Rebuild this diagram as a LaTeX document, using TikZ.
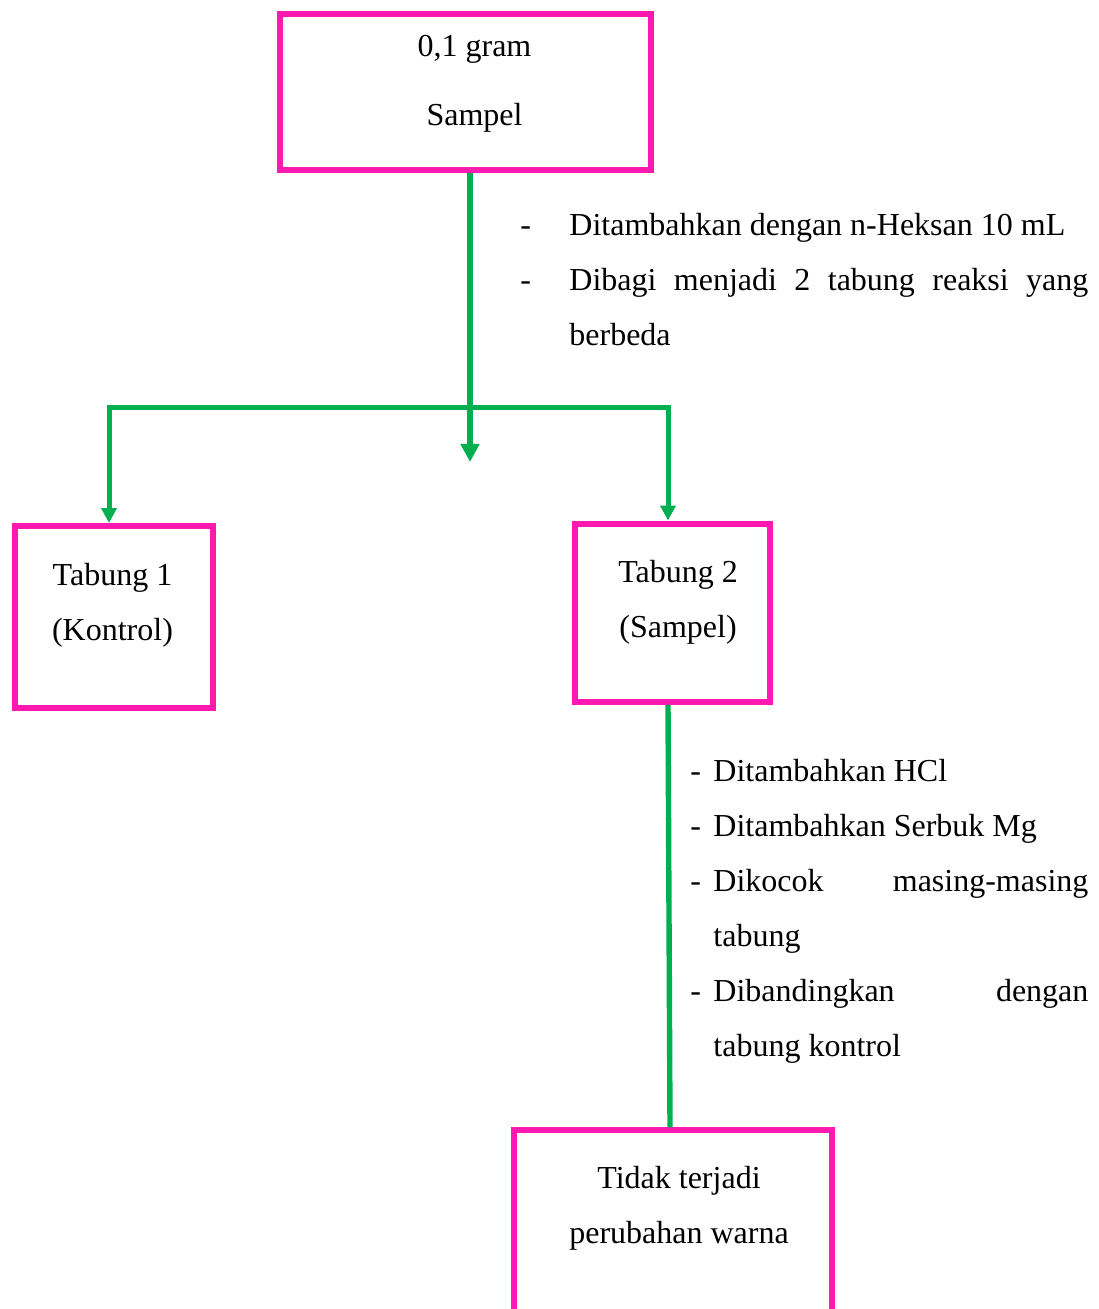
\documentclass[tikz,border=0pt]{standalone}
\usepackage{fontspec}
\setmainfont{Liberation Serif}
\usetikzlibrary{arrows.meta}
\definecolor{boxpink}{RGB}{255,25,175}
\definecolor{flowgreen}{RGB}{0,176,80}
\tikzset{
  pbox/.style={draw=boxpink, line width=3pt, inner sep=0pt, rectangle},
  gline/.style={draw=flowgreen, line width=2.6pt},
  tipbig/.style={-{Triangle[width=9pt,length=9pt]}, color=flowgreen},
  tipsmall/.style={-{Triangle[width=7.5pt,length=7.5pt]}, color=flowgreen},
  txt/.style={inner sep=0pt, font=\fontsize{16}{20}\selectfont},
}
\begin{document}
\begin{tikzpicture}[x=0.5pt,y=-0.5pt]
\clip (0,0) rectangle (1098,1309);
\fill[white] (0,0) rectangle (1098,1309);

% boxes
\node[pbox, minimum width=185.5pt, minimum height=78pt] (top) at (465.5,92) {};
\node[pbox, minimum width=99.25pt, minimum height=91pt] (t1) at (113.75,617) {};
\node[pbox, minimum width=97.75pt, minimum height=89.25pt] (t2) at (672.25,612.75) {};
\node[pbox, minimum width=159pt, minimum height=105pt] (bot) at (673,1235) {};

% box texts
\node[txt, anchor=base] (top1) at (474.5,57) {0,1 gram};
\node[txt, anchor=base] (top2) at (474.5,126) {Sampel};
\node[txt, anchor=base] (t1a) at (112.5,585) {Tabung 1};
\node[txt, anchor=base] (t1b) at (112.5,640) {(Kontrol)};
\node[txt, anchor=base] (t2a) at (678,582) {Tabung 2};
\node[txt, anchor=base] (t2b) at (678,637) {(Sampel)};
\node[txt, anchor=base] (bota) at (679,1188) {Tidak terjadi};
\node[txt, anchor=base] (botb) at (679,1243) {perubahan warna};

% first list
\node[txt, anchor=base west] (d1) at (520,236) {-};
\node[txt, anchor=base west] (l1) at (569,236) {Ditambahkan dengan n-Heksan 10 mL};
\node[txt, anchor=base west] (d2) at (520,291) {-};
\node[txt, anchor=base west] (l2) at (569,291) {\makebox[259.5pt][s]{Dibagi menjadi 2 tabung reaksi yang}};
\node[txt, anchor=base west] (l3) at (569,346) {berbeda};

% second list
\node[txt, anchor=base west] (e1) at (690,781) {-};
\node[txt, anchor=base west] (m1) at (713,781) {Ditambahkan HCl};
\node[txt, anchor=base west] (e2) at (690,836) {-};
\node[txt, anchor=base west] (m2) at (713,836) {Ditambahkan Serbuk Mg};
\node[txt, anchor=base west] (e3) at (690,891) {-};
\node[txt, anchor=base west] (m3) at (713,891) {\makebox[187.5pt][s]{Dikocok masing-masing}};
\node[txt, anchor=base west] (m4) at (713,946) {tabung};
\node[txt, anchor=base west] (e4) at (690,1001) {-};
\node[txt, anchor=base west] (m5) at (713,1001) {\makebox[187.5pt][s]{Dibandingkan dengan}};
\node[txt, anchor=base west] (m6) at (713,1056) {tabung kontrol};

% connectors
\coordinate (j) at (470,408);
\coordinate (mid) at (470,462);
\coordinate (jl) at (109,408);
\coordinate (jr) at (668,408);
\coordinate (lo) at (668,0);
\coordinate (hi) at (670,0);

\draw[gline, line width=3pt, tipbig] (top.south -| j) -- (mid);
\draw[gline, line width=2.5pt, tipsmall] (j) -- (jl) -- (jl |- t1.north);
\draw[gline, line width=2.5pt, tipsmall] (j) -- (jr) -- (jr |- t2.north);
\draw[gline, line width=2.7pt] (t2.south -| lo) -- (bot.north -| hi);
\end{tikzpicture}
\end{document}
